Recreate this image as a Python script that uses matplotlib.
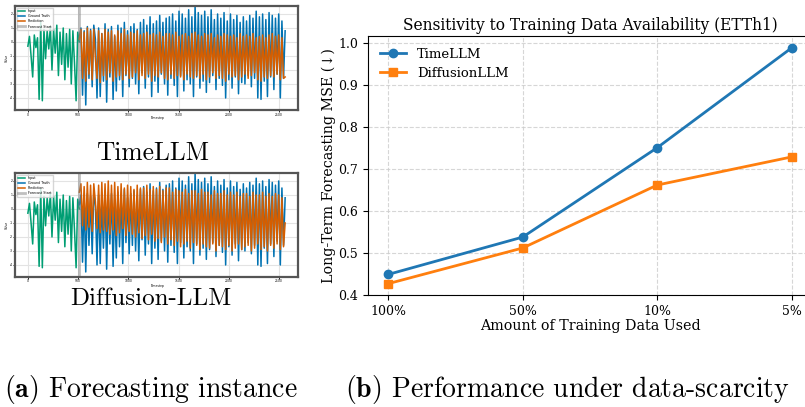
import numpy as np
import matplotlib
matplotlib.use("Agg")
import matplotlib.pyplot as plt

plt.rcParams['mathtext.fontset'] = 'cm'
plt.rcParams['axes.unicode_minus'] = False

# ---------------- Right panel data ----------------
fractions = ["100%", "50%", "10%", "5%"]
timellm_mse = [0.449, 0.538, 0.751, 0.989]
diffusionllm_mse = [0.427, 0.512, 0.662, 0.729]

# ---------------- Left panel data (sampled every 16 steps) ----------------
step = 16
input_vals = [-0.3, 0.4, -1.0, -2.5, 0.5, -0.4, 0.3, -4.1, 1.4, -4.2, 0.9, -1.2,
              0.8, -0.5, 1.1, -2.0, 0.9, -0.8, 1.2, -2.4, 0.7, -1.6, 1.0, -2.7,
              0.6, -1.8, 0.9, -3.0, 0.8, -1.5, -4.2, 0.7, 0.0]
forecast_start = 512
ground_truth = [
    0.3, 1.0, -3.8, 0.8, -4.5, 1.1, -2.6, 0.9,
    -3.2, 1.2, 0.2, -4.0, 1.0, -3.9, 0.6, -2.8,
    1.3, -4.3, 0.9, -2.5, 1.1, -4.1, 0.4, -3.5,
    1.2, -2.7, 1.0, -3.9, 1.4, -2.4, 0.8, -3.2,
    1.1, -2.6, 1.3, -3.0, 0.9, -3.7, 1.4, -2.2,
    1.6, -3.3, 1.2, -2.5, 1.8, -3.9, 1.3, -2.8,
    1.5, -3.6, 1.9, -2.3, 1.4, -3.0, 1.7, -3.8,
    1.8, -2.6, 2.0, -3.1, 1.5, -3.9, 2.2, -2.4,
    2.0, -3.5, 1.7, -2.7, 2.3, -3.0, 1.8, -3.9,
    2.6, -2.5, 2.1, -3.3, 1.9, -2.8, 2.2, -3.6,
    1.8, -2.9, 2.3, -2.4, 1.6, -3.4, 2.0, -2.6,
    1.7, -3.1, 2.1, -4.0, 1.5, -2.7, 2.0, -3.3,
    1.6, -2.5, 1.9, -3.7, 1.4, -2.9, 1.8, -3.0,
    1.5, -2.4, 1.9, -3.2, 1.7, -2.6, 2.2, -4.0,
    1.8, -4.1, 2.0, -2.8, 1.6, -3.9, 2.1, -2.5,
    1.9, -3.4, 1.7, -2.3, 2.0, -4.0, 1.5, -2.6,
    0.8]
pred_timellm = [
    0.2, 0.9, -2.6, 0.7, -2.8, 1.0, -2.3, 0.8,
    -2.7, 0.9, -1.2, -2.6, 0.8, -2.9, 0.6, -2.4,
    0.9, -2.7, 0.7, -2.2, 0.8, -2.8, 0.5, -2.5,
    0.8, -2.4, 0.6, -2.7, 0.9, -2.3, 0.5, -2.6,
    0.7, -2.5, 0.6, -2.2, 0.8, -2.7, 0.5, -2.4,
    0.6, -2.6, 0.7, -2.3, 0.5, -2.8, 0.6, -2.4,
    0.5, -2.5, 0.7, -2.2, 0.4, -2.6, 0.6, -2.7,
    0.6, -2.3, 0.5, -2.6, 0.7, -2.4, 0.4, -2.5,
    0.5, -2.7, 0.6, -2.3, 0.4, -2.5, 0.6, -2.6,
    0.7, -2.4, 0.5, -2.6, 0.4, -2.3, 0.6, -2.7,
    0.5, -2.5, 0.6, -2.2, 0.3, -2.6, 0.5, -2.4,
    0.4, -2.6, 0.6, -2.8, 0.5, -2.3, 0.4, -2.5,
    0.5, -2.4, 0.3, -2.7, 0.6, -2.5, 0.4, -2.3,
    0.5, -2.6, 0.4, -2.4, 0.6, -2.2, 0.3, -2.7,
    0.4, -2.8, 0.5, -2.5, 0.3, -2.6, 0.5, -2.4,
    0.6, -2.5, 0.4, -2.3, 0.5, -2.7, 0.3, -2.6,
    -2.5]
pred_diffusion = [
    1.2, 1.8, -1.2, 1.6, -1.5, 1.9, -1.3, 1.7,
    -1.6, 1.8, 0.5, -1.4, 1.7, -1.7, 1.9, -1.5,
    1.8, -1.6, 2.0, -1.8, 1.7, -1.5, 1.9, -1.9,
    1.6, -1.7, 1.8, -1.4, 1.5, -1.9, 1.7, -1.6,
    1.6, -1.8, 1.4, -2.0, 1.7, -1.7, 1.5, -2.1,
    1.5, -1.9, 1.7, -2.2, 1.4, -1.8, 1.6, -2.3,
    1.4, -2.1, 1.6, -2.4, 1.3, -2.0, 1.5, -2.5,
    1.5, -2.2, 1.2, -2.6, 1.4, -2.3, 1.3, -2.7,
    1.2, -2.5, 1.4, -2.3, 1.1, -2.8, 1.3, -2.4,
    1.3, -2.6, 1.1, -2.9, 1.4, -2.5, 1.2, -2.7,
    1.2, -2.8, 1.0, -2.5, 1.3, -3.0, 1.1, -2.6,
    1.1, -2.7, 1.3, -2.9, 1.0, -2.6, 1.2, -3.0,
    1.0, -2.8, 1.2, -2.5, 0.9, -2.9, 1.1, -2.7,
    1.1, -2.6, 0.9, -3.0, 1.2, -2.8, 1.0, -2.5,
    1.0, -2.9, 1.2, -2.7, 0.9, -3.0, 1.1, -2.6,
    0.9, -2.8, 1.1, -2.5, 1.0, -2.9, 0.8, -2.7,
    -1.0]

W, H = 805, 407
fig = plt.figure(figsize=(W / 100, H / 100), dpi=100)


def thumb(rect, pred):
    ax = fig.add_axes(rect)
    t_in = np.arange(len(input_vals)) * step
    t_out = forecast_start + np.arange(len(ground_truth)) * step
    ax.plot(t_in, input_vals, color="#009E73", lw=1.1, label="Input")
    ax.plot(t_out, ground_truth, color="#0072B2", lw=1.1, label="Ground Truth")
    ax.plot(t_out, pred, color="#D55E00", lw=1.1, label="Prediction")
    ax.axvline(forecast_start, color="gray", lw=2.0, alpha=0.5, label="Forecast Start")
    ax.set_ylim(-4.86, 2.57)
    ax.set_xticks([0, 500, 1000, 1500, 2000, 2500])
    ax.set_yticks([2, 1, 0, -1, -2, -3, -4])
    ax.grid(True, color="#e3e3e3", lw=0.8)
    ax.tick_params(labelsize=2.2, length=1.2, width=0.6, pad=0.6)
    ax.set_xlabel("Timestep", fontsize=2.2, labelpad=0.0)
    ax.set_ylabel("Value", fontsize=2.2, labelpad=0.3)
    for s in ax.spines.values():
        s.set_color("#555555")
        s.set_linewidth(1.6)
    ax.legend(loc="upper left", fontsize=2.4, handlelength=2.2, framealpha=0.8,
              borderpad=0.4, labelspacing=0.35, edgecolor="#cccccc")
    return ax


thumb([15 / W, 1 - 110 / H, 283 / W, 104 / H], pred_timellm)
thumb([15 / W, 1 - 277 / H, 283 / W, 104 / H], pred_diffusion)

fig.text(153 / W, 1 - 160 / H, "TimeLLM", family="cmr10", fontsize=18.3,
         ha="center", va="baseline")
fig.text(151 / W, 1 - 305 / H, "Diffusion-LLM", family="cmr10", fontsize=18,
         ha="center", va="baseline")
fig.text(151 / W, 1 - 390 / H, r"$\mathbf{(a)}$ Forecasting instance", family="cmr10",
         fontsize=20, ha="center", va="center")
fig.text(567 / W, 1 - 390 / H, r"$\mathbf{(b)}$ Performance under data-scarcity",
         family="cmr10", fontsize=20, ha="center", va="center")

# ---------------- Right panel ----------------
serif = ["DejaVu Serif", "DejaVu Sans"]
ax = fig.add_axes([368 / W, 1 - 295 / H, 444 / W, 259 / H])
x = np.arange(len(fractions))
ax.plot(x, timellm_mse, marker="o", color="#1f77b4", lw=2, ms=6, label="TimeLLM")
ax.plot(x, diffusionllm_mse, marker="s", color="#ff7f0e", lw=2, ms=6, label="DiffusionLLM")
ax.set_xlim(-0.15, 3.15)
ax.set_ylim(0.4, 1.017)
ax.set_xticks(x)
ax.set_xticklabels(fractions, family=serif, fontsize=9)
ax.set_yticks([0.4, 0.5, 0.6, 0.7, 0.8, 0.9, 1.0])
ax.set_yticklabels(["0.4", "0.5", "0.6", "0.7", "0.8", "0.9", "1.0"], family=serif, fontsize=9)
ax.grid(True, ls="--", color="#cccccc", lw=0.8, alpha=0.8)
ax.set_title("Sensitivity to Training Data Availability (ETTh1)", family=serif,
             fontsize=11.2, pad=4)
ax.set_xlabel("Amount of Training Data Used", family=serif, fontsize=10.3, labelpad=1)
ax.set_ylabel("Long-Term Forecasting MSE (↓)", family=serif, fontsize=10.3, labelpad=2)
leg = ax.legend(loc="upper left", prop={"family": "DejaVu Serif", "size": 9.5},
                frameon=False, borderaxespad=0.5, labelspacing=0.45)

fig.savefig("out.png", dpi=100)
